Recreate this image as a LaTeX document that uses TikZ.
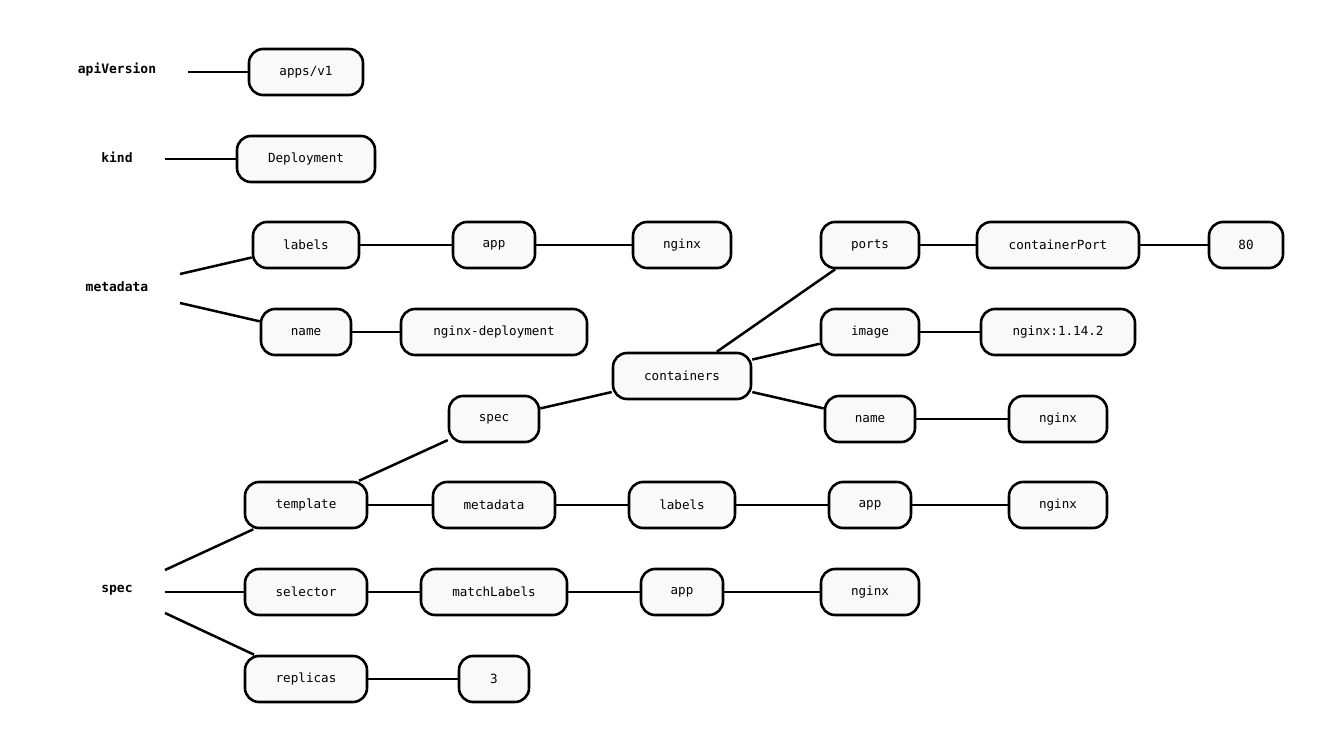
\documentclass[tikz,border=0pt]{standalone}
\usepackage{fontspec}
\setmonofont{DejaVu Sans Mono}
\definecolor{boxfill}{rgb}{0.976,0.976,0.976}
\tikzset{
  keylabel/.style={font=\ttfamily\bfseries\fontsize{13}{15}\selectfont},
  valbox/.style={draw,line width=2.6pt,rounded corners=14pt,fill=boxfill,minimum height=46pt,inner xsep=0pt,font=\ttfamily\fontsize{12.6}{15}\selectfont},
  link/.style={line width=2.5pt}
}
\begin{document}
\begin{tikzpicture}[x=1pt,y=-1pt,line cap=butt]
\useasboundingbox (0,0) rectangle (1332,751);
\node[keylabel] (apiversion) at (117,70) {apiVersion};
\node[keylabel] (kind) at (117,157) {kind};
\node[keylabel] (metadata) at (117,287) {metadata};
\node[keylabel] (spec) at (117,590) {spec};
\coordinate (apiend) at (188,72);
\coordinate (kindend) at (165,159);
\coordinate (metaup) at (180,274);
\coordinate (metadown) at (180,303);
\coordinate (specup) at (165,570);
\coordinate (specmid) at (165,592);
\coordinate (specdown) at (165,613);
\node[valbox,minimum width=114] (appsv1) at (306,72) {apps/v1};
\node[valbox,minimum width=138] (deploy) at (306,159) {Deployment};
\node[valbox,minimum width=106] (mlabels) at (306,245) {labels};
\node[valbox,minimum width=82] (mapp) at (494,245) {app};
\node[valbox,minimum width=98] (mnginx) at (682,245) {nginx};
\node[valbox,minimum width=90] (mname) at (306,332) {name};
\node[valbox,minimum width=186] (mdeploy) at (494,332) {nginx-deployment};
\node[valbox,minimum width=98] (ports) at (870,245) {ports};
\node[valbox,minimum width=162] (cport) at (1058,245) {containerPort};
\node[valbox,minimum width=74] (portval) at (1246,245) {80};
\node[valbox,minimum width=98] (image) at (870,332) {image};
\node[valbox,minimum width=154] (imageval) at (1058,332) {nginx:1.14.2};
\node[valbox,minimum width=138] (containers) at (682,376) {containers};
\node[valbox,minimum width=90] (podspec) at (494,419) {spec};
\node[valbox,minimum width=90] (cname) at (870,419) {name};
\node[valbox,minimum width=98] (cnameval) at (1058,419) {nginx};
\node[valbox,minimum width=122] (template) at (306,505) {template};
\node[valbox,minimum width=122] (tmeta) at (494,505) {metadata};
\node[valbox,minimum width=106] (tlabels) at (682,505) {labels};
\node[valbox,minimum width=82] (tapp) at (870,505) {app};
\node[valbox,minimum width=98] (tnginx) at (1058,505) {nginx};
\node[valbox,minimum width=122] (selector) at (306,592) {selector};
\node[valbox,minimum width=146] (match) at (494,592) {matchLabels};
\node[valbox,minimum width=82] (sapp) at (682,592) {app};
\node[valbox,minimum width=98] (snginx) at (870,592) {nginx};
\node[valbox,minimum width=122] (replicas) at (306,679) {replicas};
\node[valbox,minimum width=70] (repval) at (494,679) {3};
\draw[link] (apiend) -- (appsv1);
\draw[link] (kindend) -- (deploy);
\draw[link] (metaup) -- (mlabels);
\draw[link] (metadown) -- (mname);
\draw[link] (mlabels) -- (mapp);
\draw[link] (mapp) -- (mnginx);
\draw[link] (mname) -- (mdeploy);
\draw[link] (specup) -- (template);
\draw[link] (specmid) -- (selector);
\draw[link] (specdown) -- (replicas);
\draw[link] (template) -- (podspec);
\draw[link] (template) -- (tmeta);
\draw[link] (tmeta) -- (tlabels);
\draw[link] (tlabels) -- (tapp);
\draw[link] (tapp) -- (tnginx);
\draw[link] (podspec) -- (containers);
\draw[link] (containers) -- (ports);
\draw[link] (containers) -- (image);
\draw[link] (containers) -- (cname);
\draw[link] (ports) -- (cport);
\draw[link] (cport) -- (portval);
\draw[link] (image) -- (imageval);
\draw[link] (cname) -- (cnameval);
\draw[link] (selector) -- (match);
\draw[link] (match) -- (sapp);
\draw[link] (sapp) -- (snginx);
\draw[link] (replicas) -- (repval);
\end{tikzpicture}
\end{document}
